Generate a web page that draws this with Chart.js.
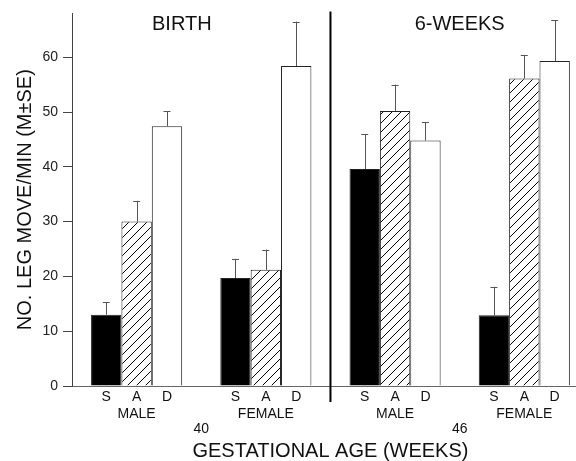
<!DOCTYPE html>
<html><head><meta charset="utf-8">
<script src="https://cdn.jsdelivr.net/npm/chart.js@4/dist/chart.umd.min.js"></script>
<style>html,body{margin:0;padding:0;background:#fff;overflow:hidden}#wrap{width:576px;height:461px;position:relative}</style>
</head><body><div id="wrap"><canvas id="c"></canvas></div>
<script>
const groups = ['MALE', 'FEMALE', 'MALE', 'FEMALE'];
const barLabels = ['S', 'A', 'D'];
const periods = ['BIRTH', '6-WEEKS'];
const ageLabels = ['40', '46'];
const sValues = [13.0, 19.7, 39.6, 12.9];
const sErrors = [2.3, 3.5, 6.4, 5.2];
const aValues = [30.0, 21.2, 50.2, 56.1];
const aErrors = [3.8, 3.7, 4.8, 4.3];
const dValues = [47.4, 58.4, 44.8, 59.3];
const dErrors = [2.7, 8.1, 3.3, 7.5];
const yTicks = [0, 10, 20, 30, 40, 50, 60];
const groupPositions = [0, 1, 2, 3];

const FONT = "'Liberation Sans', Arial, sans-serif";

function hatch() {
  const c = document.createElement('canvas');
  c.width = 9; c.height = 9;
  const g = c.getContext('2d');
  g.fillStyle = '#fff'; g.fillRect(0, 0, 9, 9);
  g.strokeStyle = '#000'; g.lineWidth = 1;
  g.beginPath();
  g.moveTo(0, 9); g.lineTo(9, 0);
  g.moveTo(-1, 1); g.lineTo(1, -1);
  g.moveTo(8, 10); g.lineTo(10, 8);
  g.stroke();
  return g.createPattern(c, 'repeat');
}

function pts(vals) { return vals.map((v, i) => ({ x: groupPositions[i], y: v })); }

const common = { borderColor: '#222', borderWidth: 1, barPercentage: 1, categoryPercentage: 0.705, borderSkipped: 'bottom' };

const extras = {
  id: 'extras',
  afterDatasetsDraw(chart) {
    const ctx = chart.ctx, xs = chart.scales.x, ys = chart.scales.y, ca = chart.chartArea;
    ctx.save();
    chart.data.datasets.forEach((ds, di) => {
      const meta = chart.getDatasetMeta(di);
      meta.data.forEach((el, i) => {
        const yTop = ys.getPixelForValue(ds.data[i].y);
        const yErr = ys.getPixelForValue(ds.data[i].y + ds.errors[i]);
        ctx.strokeStyle = '#555'; ctx.lineWidth = 1;
        ctx.beginPath();
        ctx.moveTo(Math.round(el.x) + 0.5, yTop);
        ctx.lineTo(Math.round(el.x) + 0.5, yErr);
        ctx.moveTo(el.x - 3.5, Math.round(yErr) + 0.5);
        ctx.lineTo(el.x + 3.5, Math.round(yErr) + 0.5);
        ctx.stroke();
        ctx.fillStyle = '#111';
        ctx.font = '14px ' + FONT;
        ctx.textAlign = 'center'; ctx.textBaseline = 'middle';
        ctx.fillText(barLabels[di], el.x, ca.bottom + 11);
      });
    });
    ctx.font = '14px ' + FONT;
    groups.forEach((g, i) => ctx.fillText(g, xs.getPixelForValue(groupPositions[i]), ca.bottom + 28));
    ageLabels.forEach((a, i) => ctx.fillText(a, xs.getPixelForValue(2 * i + 0.5), ca.bottom + 43));
    ctx.font = '20px ' + FONT;
    ctx.fillText('GESTATIONAL AGE (WEEKS)', (xs.getPixelForValue(0.5) + xs.getPixelForValue(2.5)) / 2, ca.bottom + 65);
    ctx.fillText(periods[0], xs.getPixelForValue(0.35), ca.top + 11);
    ctx.fillText(periods[1], xs.getPixelForValue(2.5), ca.top + 11);
    const xd = xs.getPixelForValue(1.5);
    ctx.strokeStyle = '#000'; ctx.lineWidth = 2;
    ctx.beginPath(); ctx.moveTo(xd, ca.top - 2); ctx.lineTo(xd, ca.bottom + 16); ctx.stroke();
    ctx.restore();
  }
};

new Chart(document.getElementById('c'), {
  type: 'bar',
  data: {
    datasets: [
      Object.assign({ label: 'S', data: pts(sValues), errors: sErrors, backgroundColor: '#000' }, common),
      Object.assign({ label: 'A', data: pts(aValues), errors: aErrors, backgroundColor: hatch() }, common),
      Object.assign({ label: 'D', data: pts(dValues), errors: dErrors, backgroundColor: '#fff' }, common)
    ]
  },
  options: {
    responsive: true, maintainAspectRatio: false, animation: false,
    layout: { padding: { top: 12, left: 0, right: 0, bottom: 0 } },
    plugins: { legend: { display: false }, tooltip: { enabled: false } },
    scales: {
      x: {
        type: 'linear', min: -0.5, max: 3.4, offset: false,
        afterBuildTicks(s) { s.ticks = groupPositions.map(v => ({ value: v })); },
        grid: { display: false },
        ticks: { display: false },
        border: { display: true, color: '#666', width: 1 },
        afterFit(s) { s.height = 75; }
      },
      y: {
        min: 0, max: 68,
        afterBuildTicks(s) { s.ticks = yTicks.map(v => ({ value: v })); },
        ticks: { font: { family: FONT, size: 14 }, color: '#222', padding: 5 },
        grid: { drawOnChartArea: false, drawTicks: true, tickLength: 9, color: '#444' },
        border: { display: true, color: '#444', width: 1 },
        title: { display: true, text: 'NO. LEG MOVE/MIN (M±SE)', font: { family: FONT, size: 20 }, color: '#111', padding: { top: 13, bottom: 0 } },
        afterFit(s) { s.width = 72; }
      }
    }
  },
  plugins: [extras]
});
</script></body></html>
